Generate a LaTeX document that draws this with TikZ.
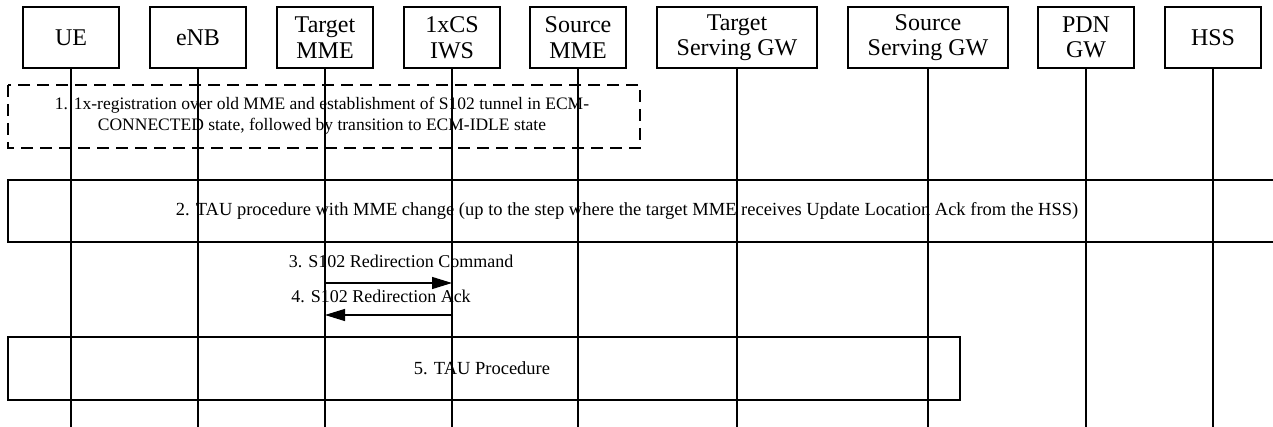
\documentclass[tikz,border=0pt]{standalone}
\usepackage{fontspec}
\setmainfont{Liberation Serif}
\usetikzlibrary{arrows.meta}
\begin{document}
\begin{tikzpicture}[x=1pt,y=-1pt,
  entity/.style={draw=black,line width=1.3pt,minimum height=61pt,inner sep=0pt,align=center,
    font=\fontsize{24}{25.5}\selectfont},
  small/.style={entity,minimum width=96pt},
  wide/.style={entity,minimum width=160pt},
  lifeline/.style={draw=black,line width=1.3pt},
  procbox/.style={draw=black,line width=1.5pt},
  dashbox/.style={draw=black,line width=1.3pt,dash pattern=on 12pt off 7pt},
  msg/.style={draw=black,line width=1.3pt,-{Triangle[length=20pt,width=12pt]}},
  msgtext/.style={anchor=base,inner sep=0pt,font=\fontsize{18}{20}\selectfont},
  boxtext/.style={inner sep=0pt,align=center,font=\fontsize{17.5}{21}\selectfont},
  proctext/.style={inner sep=0pt,align=center,font=\fontsize{18.5}{21}\selectfont}
]
\useasboundingbox (0,0) rectangle (1273,427);
\clip (0,0) rectangle (1273,427);
% entities
\node[small] (ue)   at (71,37.5)  {UE};
\node[small] (enb)  at (198,37.5) {eNB};
\node[small] (tmme) at (325,37.5) {Target\\MME};
\node[small] (iws)  at (452,37.5) {1xCS\\IWS};
\node[small] (smme) at (578,37.5) {Source\\MME};
\node[wide]  (tsgw) at (737,37.5) {Target\\Serving GW};
\node[wide]  (ssgw) at (928,37.5) {Source\\Serving GW};
\node[small] (pgw)  at (1086,37.5) {PDN\\GW};
\node[small] (hss)  at (1213,37.5) {HSS};
% lifeline ends
\foreach \n/\x in {ue/71,enb/198,tmme/325,iws/452,smme/578,tsgw/737,ssgw/928,pgw/1086,hss/1213}{
  \coordinate (\n-end) at (\x,430);
  \draw[lifeline] (\n.south) -- (\n-end);
}
% step 1
\draw[dashbox] (8,85) rectangle (640,148);
\node[boxtext] (t1) at (322,116) {1. 1x-registration over old MME and establishment of S102 tunnel in ECM-\\CONNECTED state, followed by transition to ECM-IDLE state};
% step 2
\draw[procbox] (1290,180) -- (8,180) -- (8,242) -- (1290,242);
\node[proctext] (t2) at (627,211) {2. TAU procedure with MME change (up to the step where the target MME receives Update Location Ack from the HSS)};
% step 3 & 4
\coordinate (m3s) at (325,283);
\coordinate (m3e) at (452,283);
\coordinate (m4s) at (452,315);
\coordinate (m4e) at (325,315);
\draw[msg] (m3s) -- (m3e);
\draw[msg] (m4s) -- (m4e);
\node[msgtext] (t3) at (401,268) {3. S102 Redirection Command};
\node[msgtext] (t4) at (381,303) {4. S102 Redirection Ack};
% step 5
\draw[procbox] (8,337) rectangle (960,400);
\node[proctext] (t5) at (482,368) {5. TAU Procedure};
\end{tikzpicture}
\end{document}
